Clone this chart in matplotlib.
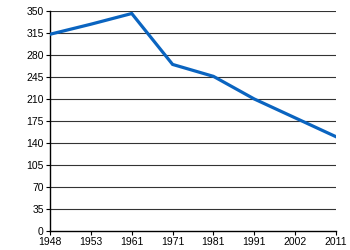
import numpy as np
import matplotlib
matplotlib.use("Agg")
import matplotlib.pyplot as plt

# dados
anos = ['1948', '1953', '1961', '1971', '1981', '1991', '2002', '2011']
valores = [313, 329, 346, 265, 246, 210, 180, 150]
yticks = [0, 35, 70, 105, 140, 175, 210, 245, 280, 315, 350]

plt.rcParams['font.family'] = ['Liberation Sans', 'DejaVu Sans']

fig = plt.figure(figsize=(3.5, 2.5), dpi=100)
ax = fig.add_axes([0.143, 0.076, 0.817, 0.88])

x = np.arange(len(anos))
ax.plot(x, valores, color='#0a64c0', linewidth=2.3, solid_joinstyle='miter', zorder=3)

ax.set_xlim(0, len(anos) - 1)
ax.set_ylim(0, 350)
ax.set_xticks(x)
ax.set_xticklabels(anos)
ax.set_yticks(yticks)

for v in yticks[1:]:
    ax.axhline(v, color='#333333', linewidth=0.8, zorder=1)

ax.spines['top'].set_visible(False)
ax.spines['right'].set_visible(False)
ax.spines['left'].set_linewidth(1.0)
ax.spines['bottom'].set_linewidth(1.0)
ax.tick_params(axis='both', labelsize=7.5, length=3, width=0.8, pad=1.5, colors='black')

fig.savefig('out.png', dpi=100)
